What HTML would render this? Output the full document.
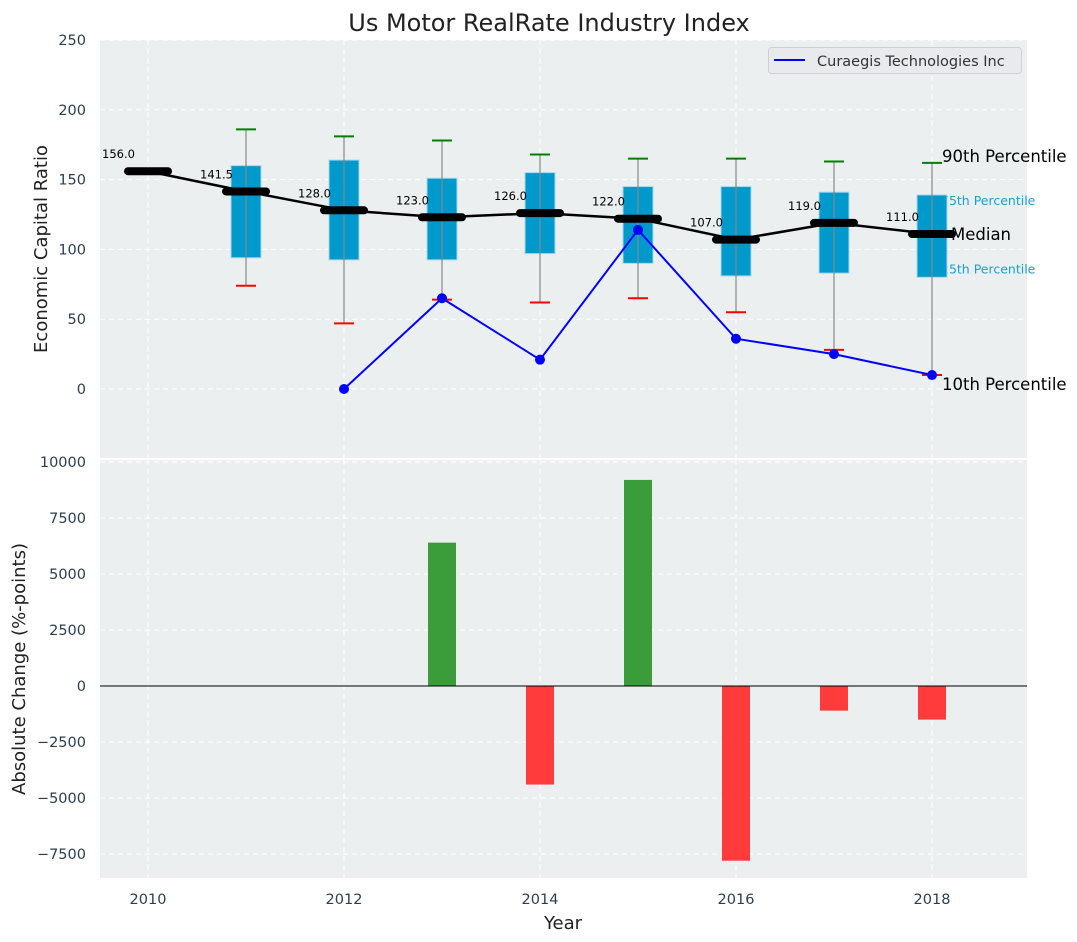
<!DOCTYPE html>
<html><head><meta charset="utf-8"><style>
body{margin:0;background:#fff;}
svg{display:block;font-family:"DejaVu Sans","Liberation Sans",sans-serif;}
</style></head><body>
<svg id="chart" width="1077" height="942" xmlns="http://www.w3.org/2000/svg"></svg>
<script>
const years=[2010,2011,2012,2013,2014,2015,2016,2017,2018];
const medians=[156,141.5,128,123,126,122,107,119,111];
const boxYears=[2011,2012,2013,2014,2015,2016,2017,2018];
const p90=[186,181,178,168,165,165,163,162];
const p75=[160,164,151,155,145,145,141,139];
const p25=[94,92.5,92.5,97,90,81,83,80];
const p10=[74,47,64,62,65,55,28,10];
const lineYears=[2012,2013,2014,2015,2016,2017,2018];
const lineVals=[0,65,21,114,36,25,10];
const barYears=[2013,2014,2015,2016,2017,2018];
const barVals=[6400,-4400,9200,-7800,-1100,-1500];
const topTicks=[0,50,100,150,200,250];
const botTicks=[-7500,-5000,-2500,0,2500,5000,7500,10000];
const botTickLabels=["\u22127500","\u22125000","\u22122500","0","2500","5000","7500","10000"];
const xTicks=[2010,2012,2014,2016,2018];

const NS="http://www.w3.org/2000/svg";
const svg=document.getElementById('chart');
const L=100,R=1027;
const x=v=>148+(v-2010)*98;
const yT=v=>389-(v)*(349/250);
const yB=v=>686-v*(224/10000);
function el(tag,attrs,parent){const e=document.createElementNS(NS,tag);for(const k in attrs)e.setAttribute(k,attrs[k]);(parent||svg).appendChild(e);return e;}
function txt(s,attrs,parent){const e=el('text',attrs,parent);e.textContent=s;return e;}

let bg=el('rect',{x:L,y:40,width:R-L,height:418,fill:'#ebeff0'});


let bg2=el('rect',{x:L,y:460,width:R-L,height:418,fill:'#ebeff0'});



const g=el('g',{stroke:'#fff','stroke-dasharray':'5,4','stroke-width':1});


topTicks.forEach(t=>el('line',{x1:L,x2:R,y1:yT(t),y2:yT(t)},g));
botTicks.forEach(t=>el('line',{x1:L,x2:R,y1:yB(t),y2:yB(t)},g));
xTicks.forEach(t=>{el('line',{x1:x(t),x2:x(t),y1:40,y2:458},g);el('line',{x1:x(t),x2:x(t),y1:460,y2:878},g);});

const tk=el('g',{fill:'#2c3e50','font-size':14.5,'text-anchor':'end'});


topTicks.forEach(t=>txt(String(t),{x:86,y:yT(t)+5},tk));
botTickLabels.forEach((s,i)=>txt(s,{x:86,y:yB(botTicks[i])+5},tk));
const xt=el('g',{fill:'#2c3e50','font-size':14.5,'text-anchor':'middle'});


xTicks.forEach(t=>txt(String(t),{x:x(t),y:904},xt));

let t1=txt('Us Motor RealRate Industry Index',{x:549,y:31,'font-size':24,'text-anchor':'middle',fill:'#222'});

let t2=txt('Economic Capital Ratio',{x:0,y:0,'font-size':18,'text-anchor':'middle',fill:'#222',transform:'translate(47,249) rotate(-90)'});

let t3=txt('Absolute Change (%-points)',{x:0,y:0,'font-size':18,'text-anchor':'middle',fill:'#222',transform:'translate(25,669) rotate(-90)'});

let t4=txt('Year',{x:563,y:929,'font-size':18,'text-anchor':'middle',fill:'#222'});


const last=boxYears.length-1, lx=x(2018);
let s1=txt('90th Percentile',{x:lx+10,y:yT(p90[last])-1,'font-size':16.5,fill:'#000'});

let s2=txt('75th Percentile',{x:lx+9,y:yT(p75[last])+10,'font-size':12.5,fill:'#1a9fd0'});

let s3=txt('25th Percentile',{x:lx+9,y:yT(p25[last])-4,'font-size':12.5,fill:'#1a9fd0'});

let s5=txt('10th Percentile',{x:lx+10,y:yT(p10[last])+15,'font-size':16.5,fill:'#000'});


boxYears.forEach((yr,i)=>{
  const cx=x(yr),hw=15;
  const b=el('g',{});
  
  
  el('rect',{x:cx-hw,y:yT(p75[i]),width:2*hw,height:yT(p25[i])-yT(p75[i]),fill:'#0099cc',stroke:'#a8d8ea','stroke-width':1},b);
  el('line',{x1:cx,x2:cx,y1:yT(p90[i]),y2:yT(p10[i]),stroke:'#888','stroke-width':1.2},b);
  el('line',{x1:cx-10,x2:cx+10,y1:yT(p90[i]),y2:yT(p90[i]),stroke:'green','stroke-width':2},b);
  el('line',{x1:cx-10,x2:cx+10,y1:yT(p10[i]),y2:yT(p10[i]),stroke:'red','stroke-width':2},b);
});

let ml=el('polyline',{points:years.map((y,i)=>x(y)+','+yT(medians[i])).join(' '),fill:'none',stroke:'#000','stroke-width':2.5});

years.forEach((yr,i)=>{
  const m=el('line',{x1:x(yr)-20,x2:x(yr)+20,y1:yT(medians[i]),y2:yT(medians[i]),stroke:'#000','stroke-width':8,'stroke-linecap':'round'});
  
  
  const l=txt(medians[i].toFixed(1),{x:x(yr)-46,y:yT(medians[i])-13,'font-size':11.5,fill:'#000'});
  
  
});
let s4=txt('Median',{x:lx+19,y:yT(medians[medians.length-1])+6,'font-size':16.5,fill:'#000'});


let cl=el('polyline',{points:lineYears.map((y,i)=>x(y)+','+yT(lineVals[i])).join(' '),fill:'none',stroke:'blue','stroke-width':2});

lineYears.forEach((yr,i)=>{
  const c=el('circle',{cx:x(yr),cy:yT(lineVals[i]),r:5,fill:'blue'});
  
  
});

const lg=el('g',{});


el('rect',{x:768.5,y:47.5,width:253,height:26,rx:3,fill:'#e8eaee',stroke:'#d0d0d0'},lg);
el('line',{x1:774,x2:805,y1:60,y2:60,stroke:'blue','stroke-width':2},lg);
txt('Curaegis Technologies Inc',{x:817,y:66,'font-size':14.5,fill:'#333'},lg);

barYears.forEach((yr,i)=>{
  const v=barVals[i];
  const r=el('rect',{x:x(yr)-14,width:28,y:Math.min(yB(v),yB(0)),height:Math.abs(yB(v)-yB(0)),fill:v>=0?'#3a9d3a':'#ff3b3b'});
  
  
});
let zl=el('line',{x1:L,x2:R,y1:yB(0),y2:yB(0),stroke:'#000','stroke-width':1});

</script>
</body></html>
